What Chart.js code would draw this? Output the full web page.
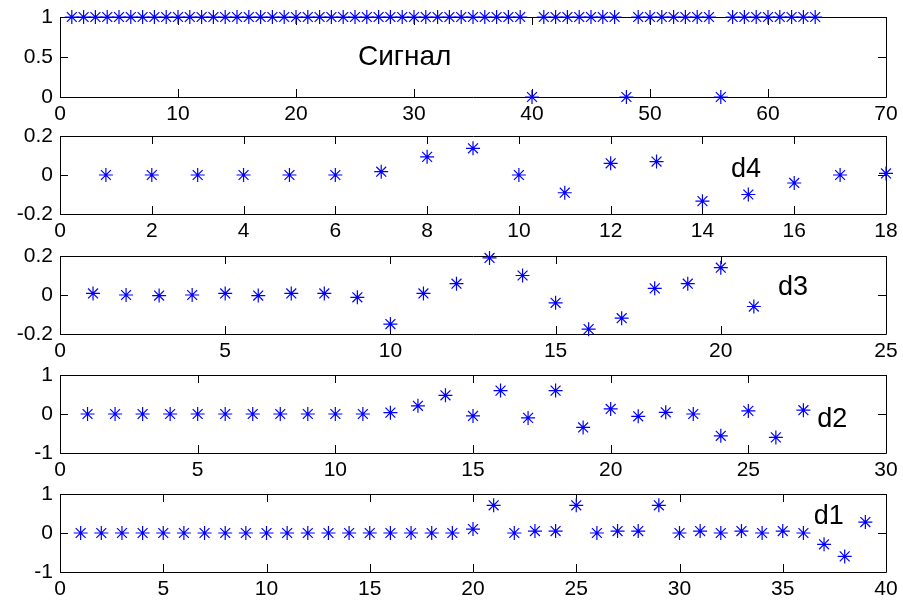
<!DOCTYPE html>
<html>
<head>
<meta charset="utf-8">
<script src="https://cdn.jsdelivr.net/npm/chart.js@4/dist/chart.umd.min.js"></script>
<style>
  html, body { margin: 0; padding: 0; background: #fff; }
  body { width: 903px; height: 604px; position: relative; overflow: hidden; }
  .panel { position: absolute; left: 0; width: 903px; }
</style>
</head>
<body>
<div id="root"></div>
<script>
// ---- data ----
const signalValues = [
  1,1,1,1,1,1,1,1,1,1, 1,1,1,1,1,1,1,1,1,1,
  1,1,1,1,1,1,1,1,1,1, 1,1,1,1,1,1,1,1,1,0,
  1,1,1,1,1,1,1,0,1,1, 1,1,1,1,1,0,1,1,1,1,
  1,1,1,1
];
const d4Values = [0, 0, 0, 0, 0, 0, 0.017, 0.093, 0.137, 0, -0.091, 0.06, 0.069, -0.134, -0.10, -0.041, 0, 0.008];
const d3Values = [0.008, 0, -0.003, 0, 0.008, -0.003, 0.008, 0.008, -0.012, -0.149, 0.008, 0.058, 0.19, 0.10, -0.04, -0.175, -0.119, 0.034, 0.058, 0.14, -0.059];
const d2Values = [0, 0, 0, 0, 0, 0, 0, 0, 0, 0, 0, 0.035, 0.21, 0.48, -0.05, 0.60, -0.10, 0.60, -0.345, 0.13, -0.06, 0.044, 0, -0.56, 0.08, -0.60, 0.097];
const d1Values = [0, 0, 0, 0, 0, 0, 0, 0, 0, 0, 0, 0, 0, 0, 0, 0, 0, 0, 0, 0.10, 0.71, 0, 0.05, 0.05, 0.71, 0, 0.05, 0.05, 0.71, 0, 0.05, 0, 0.05, 0, 0.05, 0, -0.29, -0.60, 0.28];

const panelNames = ['Сигнал', 'd4', 'd3', 'd2', 'd1'];
const xMax = [70, 18, 25, 30, 40];
const xStep = [10, 2, 5, 5, 5];
const yMin = [0, -0.2, -0.2, -1, -1];
const yMax = [1, 0.2, 0.2, 1, 1];
const yStep = [0.5, 0.2, 0.2, 1, 1];

// ---- layout / style (not data) ----
const panelTop = [17, 136, 256, 375, 494];
const panelBottom = [97, 214, 334, 453, 572];
const labelAnchor = [ {x: 25.25, y: 0.5}, {x: 14.62, y: 0.03}, {x: 21.73, y: 0.036}, {x: 27.5, y: -0.15}, {x: 36.5, y: 0.41} ];
const labelFont = ['28px "Liberation Sans", Arial, sans-serif', '27px "Liberation Sans", Arial, sans-serif',
                   '27px "Liberation Sans", Arial, sans-serif', '27px "Liberation Sans", Arial, sans-serif',
                   '27px "Liberation Sans", Arial, sans-serif'];
const seriesList = [signalValues, d4Values, d3Values, d2Values, d1Values];
const PAD_TOP = 12, XAXIS_H = 30, YAXIS_W = 60, RIGHT = 886, TICK = 8;

const framePlugin = {
  id: 'matlabFrame',
  beforeDatasetsDraw(chart) {
    const {ctx, chartArea: a, scales} = chart;
    ctx.save();
    ctx.strokeStyle = '#000';
    ctx.lineWidth = 1;
    ctx.beginPath();
    ctx.rect(Math.round(a.left) + 0.5, Math.round(a.top) + 0.5, Math.round(a.right - a.left), Math.round(a.bottom - a.top));
    ctx.stroke();
    ctx.beginPath();
    scales.x.ticks.forEach(t => {
      const px = Math.round(scales.x.getPixelForValue(t.value)) + 0.5;
      ctx.moveTo(px, a.bottom); ctx.lineTo(px, a.bottom - TICK);
      ctx.moveTo(px, a.top); ctx.lineTo(px, a.top + TICK);
    });
    scales.y.ticks.forEach(t => {
      const py = Math.round(scales.y.getPixelForValue(t.value)) + 0.5;
      ctx.moveTo(a.left, py); ctx.lineTo(a.left + TICK, py);
      ctx.moveTo(a.right, py); ctx.lineTo(a.right - TICK, py);
    });
    ctx.stroke();
    ctx.restore();
  },
  afterDatasetsDraw(chart, args, opts) {
    const {ctx, scales} = chart;
    ctx.save();
    ctx.fillStyle = '#000';
    ctx.font = opts.font;
    ctx.textAlign = 'left';
    ctx.textBaseline = 'middle';
    ctx.fillText(opts.text, scales.x.getPixelForValue(opts.x), scales.y.getPixelForValue(opts.y));
    ctx.restore();
  }
};

const root = document.getElementById('root');
for (let i = 0; i < 5; i++) {
  const h = (panelBottom[i] - panelTop[i]) + PAD_TOP + XAXIS_H;
  const div = document.createElement('div');
  div.className = 'panel';
  div.style.top = (panelTop[i] - PAD_TOP) + 'px';
  div.style.height = h + 'px';
  const cv = document.createElement('canvas');
  cv.width = 903; cv.height = h;
  cv.style.width = '903px'; cv.style.height = h + 'px';
  div.appendChild(cv);
  root.appendChild(div);

  const pts = seriesList[i].map((v, k) => ({x: k + 1, y: v}));
  new Chart(cv, {
    type: 'scatter',
    data: { datasets: [{
      data: pts,
      pointStyle: 'star',
      pointRadius: 7,
      pointHoverRadius: 7,
      borderColor: '#0000ff',
      backgroundColor: '#0000ff',
      borderWidth: 1.2,
      showLine: false,
      clip: false
    }]},
    options: {
      responsive: false,
      animation: false,
      devicePixelRatio: 1,
      events: [],
      layout: { padding: { top: PAD_TOP, right: 903 - RIGHT, left: 0, bottom: 0 } },
      plugins: {
        legend: { display: false },
        tooltip: { enabled: false },
        matlabFrame: { text: panelNames[i], x: labelAnchor[i].x, y: labelAnchor[i].y, font: labelFont[i] }
      },
      scales: {
        x: {
          type: 'linear', min: 0, max: xMax[i],
          grid: { display: false, drawTicks: false },
          border: { display: false },
          ticks: { stepSize: xStep[i], autoSkip: false, maxRotation: 0, padding: 5, color: '#000',
                   font: { family: '"Liberation Sans", Arial, sans-serif', size: 21 } },
          afterFit(s) { s.height = XAXIS_H; s.paddingLeft = 0; s.paddingRight = 0; }
        },
        y: {
          type: 'linear', min: yMin[i], max: yMax[i],
          grid: { display: false, drawTicks: false },
          border: { display: false },
          ticks: { stepSize: yStep[i], autoSkip: false, padding: 7, color: '#000',
                   font: { family: '"Liberation Sans", Arial, sans-serif', size: 21 },
                   callback: v => String(Math.round(v * 10) / 10) },
          afterFit(s) { s.width = YAXIS_W; s.paddingTop = 0; s.paddingBottom = 0; }
        }
      }
    },
    plugins: [framePlugin]
  });
}
</script>
</body>
</html>
